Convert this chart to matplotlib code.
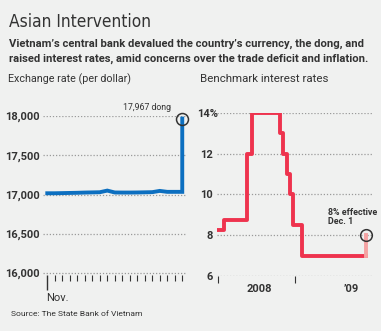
import matplotlib
matplotlib.use("Agg")
import matplotlib.pyplot as plt
import matplotlib.dates as mdates
import matplotlib.transforms as mtrans
import numpy as np
import datetime as dt

# ---------------- data ----------------
fx_days = ["Nov 2", "Nov 3", "Nov 4", "Nov 5", "Nov 6", "Nov 9", "Nov 10", "Nov 11", "Nov 12",
           "Nov 13", "Nov 16", "Nov 17", "Nov 18", "Nov 19", "Nov 20", "Nov 23", "Nov 24",
           "Nov 25", "Nov 26"]
fx_rate = [17016, 17016, 17018, 17020, 17022, 17025, 17027, 17029, 17050,
           17026, 17025, 17025, 17026, 17028, 17030, 17046, 17034, 17034, 17967]
fx_yticks = [16000, 16500, 17000, 17500, 18000]
fx_yticklabels = ["16,000", "16,500", "17,000", "17,500", "18,000"]

rate_dates = ["2008-01-01", "2008-02-01", "2008-05-19", "2008-06-11", "2008-10-21",
              "2008-11-05", "2008-11-21", "2008-12-05", "2008-12-22", "2009-02-01",
              "2009-12-01"]
rate_vals = [8.25, 8.75, 12.0, 14.0, 13.0, 12.0, 11.0, 10.0, 8.5, 7.0, 7.0]
new_rate_date = "2009-12-01"
new_rate = 8.0
rate_yticks = [6, 8, 10, 12, 14]
rate_yticklabels = ["6", "8", "10", "12", "14%"]

# ---------------- style ----------------
BG = "#f0f1f0"
TXT = "#333333"
BLUE = "#0c6fc0"
RED = "#ee334e"
PINK = "#f5a3a3"
GRID = "#9a9a9a"
plt.rcParams["font.family"] = ["Roboto", "DejaVu Sans"]

W, H = 381, 331
fig = plt.figure(figsize=(W / 100, H / 100), dpi=100, facecolor=BG)
R = fig.canvas.get_renderer()

def box(l, t, r, b):
    return [l / W, (H - b) / H, (r - l) / W, (b - t) / H]

def fit(t, width):
    w = t.get_window_extent(R).width
    t.set_fontsize(t.get_fontsize() * width / w)
    return t

def ftext(px, py, s, width, **kw):
    t = fig.text(px / W, 1 - py / H, s, va="baseline", color=TXT, **kw)
    return fit(t, width)

ftext(9, 27, "Asian Intervention", 142, fontsize=13, family="DejaVu Sans", stretch="condensed")
ftext(9, 47, "Vietnam\u2019s central bank devalued the country\u2019s currency, the dong, and",
      356, fontsize=9, fontweight="bold")
ftext(9, 62, "raised interest rates, amid concerns over the trade deficit and inflation.",
      361, fontsize=9, fontweight="bold")
ftext(8, 82, "Exchange rate (per dollar)", 122, fontsize=8.5)
ftext(200, 82, "Benchmark interest rates", 126, fontsize=8.5)
ftext(11, 316, "Source: The State Bank of Vietnam", 131, fontsize=7)

# tick-label size matched to the reference width of "18,000"
probe = fig.text(0, 0, "18,000", fontsize=8, fontweight="bold")
TICK_FS = 8 * 34.5 / probe.get_window_extent(R).width
probe.remove()

# ---------------- left panel ----------------
ax1 = fig.add_axes(box(43, 116, 186, 275))
ax1.set_facecolor("none")
x = np.arange(len(fx_rate))
xs = np.concatenate([x[:-1], [x[-1], x[-1]]])
ys = np.concatenate([fx_rate[:-1], [fx_rate[-2], fx_rate[-1]]])
ax1.plot(xs, ys, color=BLUE, lw=2.8, solid_joinstyle="miter", zorder=3)
ax1.plot([x[-1]], [fx_rate[-1]], marker="o", ms=8.6, mfc="none", mec=TXT, mew=1.1,
         clip_on=False, zorder=4)
t = ax1.text(x[-1] - 1.5, fx_rate[-1] + 110, f"{fx_rate[-1]:,} dong", fontsize=7.5, color=TXT,
             ha="right", va="baseline")
fit(t, 48)
ax1.set_xlim(-0.57, 18.5)
ax1.set_ylim(16000 - 25, 18000)
ax1.set_yticks(fx_yticks)
ax1.set_yticklabels(fx_yticklabels, fontsize=TICK_FS, fontweight="bold", color=TXT)
ax1.tick_params(axis="y", length=0, pad=2)
for v in fx_yticks:
    ax1.axhline(v, color=GRID, lw=0.9, ls=(0, (1, 1.5)), zorder=1)
ax1.set_xticks([0])
ax1.set_xticklabels(["Nov."], fontsize=TICK_FS, color=TXT, ha="left")
ax1.set_xticks(x, minor=True)
ax1.tick_params(axis="x", which="major", length=11, width=1, color=TXT, pad=2)
ax1.tick_params(axis="x", which="minor", length=4, width=0.8, color=TXT)
for s in ax1.spines.values():
    s.set_visible(False)
lab = ax1.get_xticklabels()[0]
lab.set_transform(lab.get_transform() + mtrans.ScaledTranslation(-1 / 100, 0, fig.dpi_scale_trans))

# ---------------- right panel ----------------
ax2 = fig.add_axes(box(217, 113, 373, 276))
ax2.set_facecolor("none")
d = [dt.datetime.strptime(s, "%Y-%m-%d") for s in rate_dates]
ax2.plot(d, rate_vals, drawstyle="steps-post", color=RED, lw=2.8, zorder=3)
nd = dt.datetime.strptime(new_rate_date, "%Y-%m-%d")
ax2.plot([nd, nd], [rate_vals[-1], new_rate], color=PINK, lw=2.8, zorder=3)
ax2.plot([nd], [new_rate], marker="o", ms=8.4, mfc="none", mec=TXT, mew=1.1, clip_on=False, zorder=4)
t2 = ax2.text(mdates.date2num(nd) - 180, new_rate + 0.45, "8% effective\nDec. 1", fontsize=7.5,
              color=TXT, ha="left", va="bottom", linespacing=0.95, fontweight="bold")
fit(t2, 49)
ax2.set_xlim(dt.datetime(2007, 12, 28), dt.datetime(2010, 1, 2))
ax2.set_ylim(6, 14)
ax2.set_yticks(rate_yticks)
ax2.set_yticklabels(rate_yticklabels, fontsize=TICK_FS, fontweight="bold", color=TXT)
ax2.tick_params(axis="y", length=0, pad=3)
for v in rate_yticks:
    ax2.axhline(v, color=GRID, lw=0.9, ls=(0, (1, 1.5)), zorder=1)
ax2.set_xticks([dt.datetime(2008, 1, 1), dt.datetime(2009, 1, 1)])
ax2.set_xticklabels([])
ax2.tick_params(axis="x", which="major", length=5, width=0.8, color=TXT)
ax2.set_xticks([dt.datetime(2008, 7, 15), dt.datetime(2009, 9, 20)], minor=True)
ax2.set_xticklabels(["2008", "\u201909"], minor=True, fontsize=TICK_FS, fontweight="bold", color=TXT)
ax2.tick_params(axis="x", which="minor", length=0, pad=6)
for s in ax2.spines.values():
    s.set_visible(False)
pl = ax2.get_yticklabels()[-1]
pl.set_transform(pl.get_transform() + mtrans.ScaledTranslation(5 / 100, 0, fig.dpi_scale_trans))

fig.savefig("out.png", dpi=100, facecolor=BG)
